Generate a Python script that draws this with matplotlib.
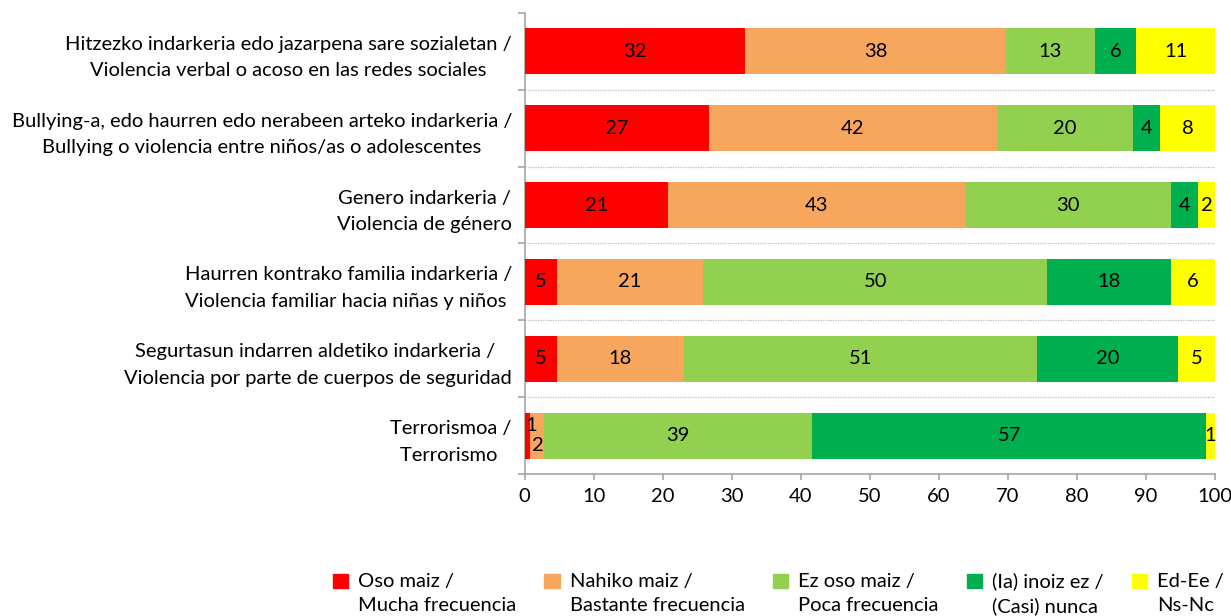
import matplotlib
matplotlib.use("Agg")
import matplotlib.pyplot as plt
import matplotlib.patches as mpatches
from matplotlib.legend_handler import HandlerPatch
import numpy as np

plt.rcParams['font.family'] = ['Lato', 'DejaVu Sans']

categories = [
    "Hitzezko indarkeria edo jazarpena sare sozialetan /\nViolencia verbal o acoso en las redes sociales",
    "Bullying-a, edo haurren edo nerabeen arteko indarkeria /\nBullying o violencia entre niños/as o adolescentes",
    "Genero indarkeria /\nViolencia de género",
    "Haurren kontrako familia indarkeria /\nViolencia familiar hacia niñas y niños ",
    "Segurtasun indarren aldetiko indarkeria / \nViolencia por parte de cuerpos de seguridad",
    "Terrorismoa /\nTerrorismo ",
]
series_names = [
    "Oso maiz /\nMucha frecuencia",
    "Nahiko maiz /\nBastante frecuencia",
    "Ez oso maiz /\nPoca frecuencia",
    "(Ia) inoiz ez /\n(Casi) nunca",
    "Ed-Ee /\nNs-Nc",
]
oso_maiz = [32.0, 26.7, 20.8, 4.7, 4.7, 0.8]
nahiko_maiz = [37.7, 41.7, 43.0, 21.2, 18.4, 2.0]
ez_oso_maiz = [12.9, 19.7, 29.8, 49.8, 51.1, 38.9]
inoiz_ez = [6.0, 3.9, 4.0, 17.9, 20.4, 57.0]
ns_nc = [11.4, 8.0, 2.4, 6.4, 5.4, 1.3]
colors = ["#FF0000", "#F7A65E", "#92D050", "#00B050", "#FFFF00"]
x_ticks = list(range(0, 101, 10))

series = [oso_maiz, nahiko_maiz, ez_oso_maiz, inoiz_ez, ns_nc]
FS = 14.5

fig = plt.figure(figsize=(12.31, 6.16), dpi=100)
ax = fig.add_axes([524.5 / 1231, 1 - 474 / 616, (1215 - 524.5) / 1231, (474 - 13) / 616])

y = np.arange(len(categories))
left = np.zeros(len(categories))
handles = []
for si, (vals, col, name) in enumerate(zip(series, colors, series_names)):
    vals = np.array(vals)
    bars = ax.barh(y, vals, left=left, height=0.6, color=col, edgecolor='none', label=name, zorder=3)
    handles.append(bars)
    for i, (v, l) in enumerate(zip(vals, left)):
        txt = f"{int(round(v))}"
        dx, dy = 0, 0
        if i == 5 and si == 0:
            dx, dy = 3, 7
        elif i == 5 and si == 1:
            dx, dy = 1, -7.5
        ax.annotate(txt, (l + v / 2, i), xytext=(dx, dy), textcoords='offset points',
                    ha='center', va='center', fontsize=FS, color='black', zorder=4)
    left = left + vals

ax.set_xlim(0, 100)
ax.set_ylim(len(categories) - 0.5, -0.5)
ax.set_xticks(x_ticks)
ax.set_xticklabels([str(t) for t in x_ticks], fontsize=FS)
ax.set_yticks(y)
ax.set_yticklabels(categories, fontsize=FS, multialignment='center', linespacing=1.68)
ax.tick_params(axis='y', which='major', length=0, pad=9)
ax.set_yticks(np.arange(-0.5, len(categories), 1.0), minor=True)
ax.tick_params(axis='y', which='minor', length=5, color='#A6A6A6', width=1.2)
ax.tick_params(axis='x', which='major', length=4, color='#A6A6A6', width=1.2, pad=6)

for b in np.arange(0.5, len(categories) - 0.5, 1.0):
    ax.axhline(b, color='#BFBFBF', linewidth=0.9, linestyle=(0, (1, 1)), zorder=1)

for s in ['top', 'right']:
    ax.spines[s].set_visible(False)
for s in ['left', 'bottom']:
    ax.spines[s].set_color('#A6A6A6')
    ax.spines[s].set_linewidth(1.2)


def top_square(legend, orig_handle, xdescent, ydescent, width, height, fontsize):
    return mpatches.Rectangle((-xdescent, -ydescent + 9.0), width, height)


proxies = [mpatches.Patch(color=c) for c in colors]
leg = fig.legend(handles=proxies, labels=series_names, loc='upper left',
                 bbox_to_anchor=(333 / 1231, 1 - 572 / 616), ncol=5, frameon=False,
                 fontsize=FS, handlelength=0.75, handleheight=0.75, handletextpad=0.5,
                 columnspacing=1.4, borderpad=0, borderaxespad=0,
                 handler_map={mpatches.Patch: HandlerPatch(patch_func=top_square)})
for t in leg.get_texts():
    t.set_linespacing(1.5)

fig.savefig("out.png", dpi=100)
